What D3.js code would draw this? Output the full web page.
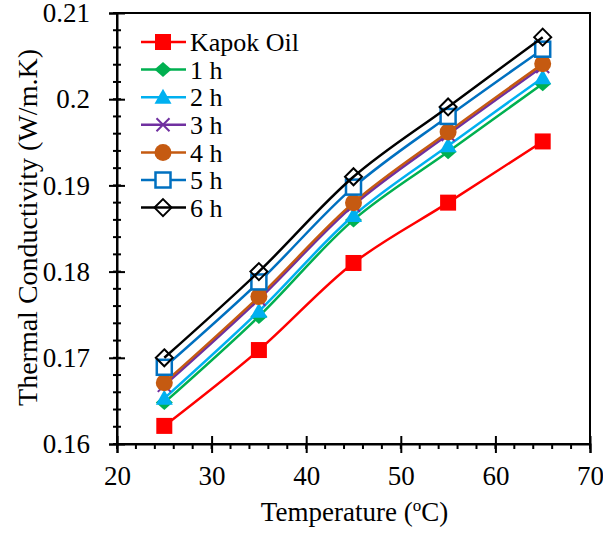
<!DOCTYPE html>
<html>
<head>
<meta charset="utf-8">
<script src="https://cdn.jsdelivr.net/npm/d3@7"></script>
<style>
  html, body { margin: 0; padding: 0; background: #fff; }
  svg text { font-family: "Liberation Serif", "Times New Roman", serif; fill: #000; }
</style>
</head>
<body>
<svg id="chart" width="603" height="533"></svg>
<script>
// Temperatures (°C) at which thermal conductivity was measured
const temperatures = [25, 35, 45, 55, 65];

// Thermal conductivity (W/m.K) for each sample
const kapokOil = [0.1621, 0.1709, 0.1810, 0.1880, 0.1951];
const hour1 = [0.1648, 0.1748, 0.1860, 0.1939, 0.2018];
const hour2 = [0.1653, 0.1754, 0.1865, 0.1946, 0.2025];
const hour3 = [0.1668, 0.1768, 0.1877, 0.1959, 0.2038];
const hour4 = [0.1671, 0.1771, 0.1880, 0.1962, 0.2041];
const hour5 = [0.1689, 0.1788, 0.1898, 0.1980, 0.2058];
const hour6 = [0.1700, 0.1800, 0.1910, 0.1991, 0.2072];

const seriesNames = ["Kapok Oil", "1 h", "2 h", "3 h", "4 h", "5 h", "6 h"];
const seriesValues = [kapokOil, hour1, hour2, hour3, hour4, hour5, hour6];
const seriesColors = ["#FF0000", "#00B050", "#00B0F0", "#7030A0", "#C55A11", "#0070C0", "#000000"];
const seriesMarkers = ["square", "diamond", "triangle", "cross", "circle", "openSquare", "openDiamond"];

const xTicks = [20, 30, 40, 50, 60, 70];
const yTicks = [0.16, 0.17, 0.18, 0.19, 0.2, 0.21];

const svg = d3.select("#chart");
const plot = { left: 117, right: 590, top: 13, bottom: 444 };

const x = d3.scaleLinear().domain([20, 70]).range([plot.left, plot.right]);
const y = d3.scaleLinear().domain([0.16, 0.21]).range([plot.bottom, plot.top]);

// Plot frame
svg.append("rect")
  .attr("x", plot.left).attr("y", plot.top)
  .attr("width", plot.right - plot.left).attr("height", plot.bottom - plot.top)
  .attr("fill", "none").attr("stroke", "#000").attr("stroke-width", 2);

// Minor ticks
const xMinor = d3.range(20, 70.001, 2);
svg.append("g").selectAll("line").data(xMinor).join("line")
  .attr("x1", d => x(d)).attr("x2", d => x(d))
  .attr("y1", plot.bottom).attr("y2", plot.bottom + 5)
  .attr("stroke", "#000").attr("stroke-width", 2);
const yMinor = d3.range(0.16, 0.21001, 0.002);
svg.append("g").selectAll("line").data(yMinor).join("line")
  .attr("x1", plot.left - 4).attr("x2", plot.left + 4)
  .attr("y1", d => y(d)).attr("y2", d => y(d))
  .attr("stroke", "#000").attr("stroke-width", 2);

// X axis
const xAxis = svg.append("g").attr("transform", `translate(0,${plot.bottom})`)
  .call(d3.axisBottom(x).tickValues(xTicks).tickFormat(d3.format("d")).tickSize(9).tickPadding(13));
xAxis.select(".domain").attr("stroke-width", 2);
xAxis.selectAll(".tick line").attr("stroke-width", 2).attr("y1", -8);
xAxis.selectAll(".tick text").style("font-size", "27px").style("font-family", "Liberation Serif");

// Y axis
const yAxis = svg.append("g").attr("transform", `translate(${plot.left},0)`)
  .call(d3.axisLeft(y).tickValues(yTicks).tickFormat(d => String(+d.toFixed(2))).tickSize(8).tickPadding(19));
yAxis.select(".domain").attr("stroke-width", 2);
yAxis.selectAll(".tick line").attr("stroke-width", 2).attr("x1", 8);
yAxis.selectAll(".tick text").style("font-size", "27px").style("font-family", "Liberation Serif");

// Axis titles
const xTitle = svg.append("text")
  .attr("x", (plot.left + plot.right) / 2 + 1).attr("y", 521)
  .attr("text-anchor", "middle").style("font-size", "27px");
xTitle.append("tspan").text("Temperature (");
xTitle.append("tspan").text("o").attr("dy", -10).style("font-size", "17px");
xTitle.append("tspan").text("C)").attr("dy", 10);

svg.append("text")
  .attr("transform", `translate(37,${(plot.top + plot.bottom) / 2 - 1}) rotate(-90)`)
  .attr("text-anchor", "middle").style("font-size", "28px")
  .text("Thermal Conductivity (W/m.K)");

// Marker drawing
function drawMarker(g, type, color, cx, cy) {
  const s = 16;
  switch (type) {
    case "square":
      g.append("rect").attr("x", cx - s / 2).attr("y", cy - s / 2).attr("width", s).attr("height", s).attr("fill", color);
      break;
    case "diamond":
      g.append("path").attr("d", `M${cx},${cy - 7.5}L${cx + 8.5},${cy}L${cx},${cy + 7.5}L${cx - 8.5},${cy}Z`).attr("fill", color);
      break;
    case "triangle":
      g.append("path").attr("d", `M${cx},${cy - 8.5}L${cx + 8.5},${cy + 6.5}L${cx - 8.5},${cy + 6.5}Z`).attr("fill", color);
      break;
    case "cross":
      g.append("path").attr("d", `M${cx - 6.5},${cy - 6.5}L${cx + 6.5},${cy + 6.5}M${cx - 6.5},${cy + 6.5}L${cx + 6.5},${cy - 6.5}`)
        .attr("stroke", color).attr("stroke-width", 2).attr("fill", "none");
      break;
    case "circle":
      g.append("circle").attr("cx", cx).attr("cy", cy).attr("r", 8.5).attr("fill", color);
      break;
    case "openSquare":
      g.append("rect").attr("x", cx - 7.5).attr("y", cy - 7.5).attr("width", 15).attr("height", 15)
        .attr("fill", "#fff").attr("stroke", color).attr("stroke-width", 2.5);
      break;
    case "openDiamond":
      g.append("path").attr("d", `M${cx},${cy - 8.5}L${cx + 8.5},${cy}L${cx},${cy + 8.5}L${cx - 8.5},${cy}Z`)
        .attr("fill", "none").attr("stroke", color).attr("stroke-width", 2);
      break;
  }
}

const line = d3.line().x(d => x(d[0])).y(d => y(d[1])).curve(d3.curveCatmullRom.alpha(0.5));

// Series lines and markers
seriesValues.forEach((vals, i) => {
  const pts = temperatures.map((t, j) => [t, vals[j]]);
  const g = svg.append("g");
  g.append("path").attr("d", line(pts))
    .attr("fill", "none").attr("stroke", seriesColors[i]).attr("stroke-width", 2.5);
  pts.forEach(p => drawMarker(g, seriesMarkers[i], seriesColors[i], x(p[0]), y(p[1])));
});

// Legend
const legend = svg.append("g");
seriesNames.forEach((name, i) => {
  const cy = 42 + i * 27.6;
  const g = legend.append("g");
  g.append("line").attr("x1", 141).attr("x2", 186).attr("y1", cy).attr("y2", cy)
    .attr("stroke", seriesColors[i]).attr("stroke-width", 2.5);
  drawMarker(g, seriesMarkers[i], seriesColors[i], 163, cy);
  g.append("text").attr("x", 190).attr("y", cy).attr("dy", "0.35em")
    .style("font-size", "26px").text(name);
});
</script>
</body>
</html>
